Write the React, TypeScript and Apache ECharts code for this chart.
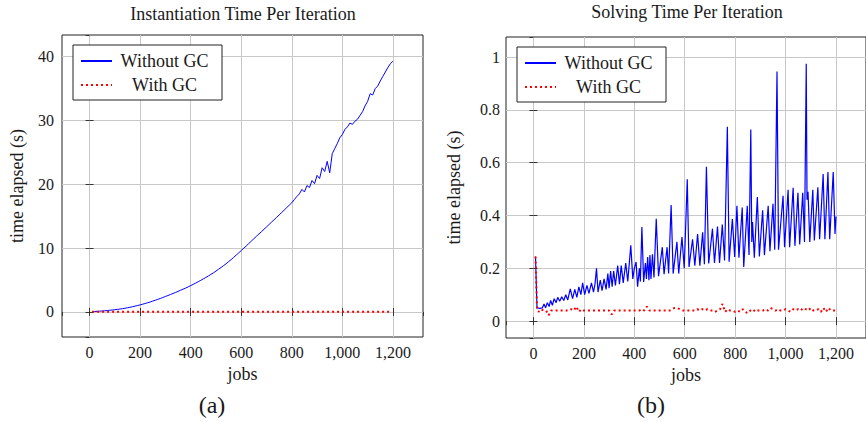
import React, { useEffect, useRef } from "react";
import * as echarts from "echarts";

// ---------- Data: (a) Instantiation time per iteration ----------
const instJobs = [
  10, 20, 30, 40, 50, 60, 70, 80, 90, 100,
  110, 120, 130, 140, 150, 160, 170, 180, 190, 200,
  210, 220, 230, 240, 250, 260, 270, 280, 290, 300,
  310, 320, 330, 340, 350, 360, 370, 380, 390, 400,
  410, 420, 430, 440, 450, 460, 470, 480, 490, 500,
  510, 520, 530, 540, 550, 560, 570, 580, 590, 600,
  610, 620, 630, 640, 650, 660, 670, 680, 690, 700,
  710, 720, 730, 740, 750, 760, 770, 780, 790, 800,
  810, 820, 830, 840, 850, 860, 870, 880, 890, 900,
  910, 920, 930, 940, 950, 960, 970, 980, 990, 1000,
  1010, 1020, 1030, 1040, 1050, 1060, 1070, 1080, 1090, 1100,
  1110, 1120, 1130, 1140, 1150, 1160, 1170, 1180, 1190, 1200,
];
const instWithoutGC = [
  0.05, 0.07, 0.09, 0.12, 0.15, 0.18, 0.22, 0.26, 0.3, 0.35,
  0.4, 0.45, 0.51, 0.58, 0.65, 0.73, 0.82, 0.91, 1.0, 1.1,
  1.21, 1.32, 1.44, 1.56, 1.7, 1.83, 1.97, 2.11, 2.26, 2.42,
  2.57, 2.73, 2.89, 3.05, 3.22, 3.4, 3.57, 3.74, 3.92, 4.12,
  4.32, 4.52, 4.74, 4.95, 5.18, 5.4, 5.63, 5.88, 6.12, 6.4,
  6.68, 6.96, 7.26, 7.55, 7.88, 8.2, 8.55, 8.9, 9.25, 9.62,
  9.98, 10.35, 10.72, 11.1, 11.48, 11.85, 12.22, 12.58, 12.95, 13.32,
  13.7, 14.08, 14.45, 14.82, 15.2, 15.58, 15.96, 16.35, 16.73, 17.12,
  17.6, 18.1, 18.5, 19.2, 18.8, 19.8, 19.5, 20.6, 20.1, 21.4,
  20.9, 22.6, 22.0, 23.6, 21.8, 24.8, 25.6, 26.4, 27.3, 27.8,
  28.6, 29.0, 29.6, 29.4, 29.9, 30.2, 30.8, 31.4, 32.3, 33.0,
  34.2, 34.0, 35.0, 35.4, 36.2, 36.9, 37.6, 38.3, 38.9, 39.3,
];
const instGcJobs = [10, 100, 200, 300, 400, 500, 600, 700, 800, 900, 1000, 1100, 1195];
const instWithGC = [0.03, 0.03, 0.04, 0.04, 0.03, 0.03, 0.03, 0.03, 0.03, 0.03, 0.03, 0.03, 0.03];

// ---------- Data: (b) Solving time per iteration ----------
const solveJobs = [
  8, 14, 25, 35, 42, 48, 55, 62, 68, 75,
  82, 90, 96, 104, 112, 120, 128, 136, 146, 155,
  164, 172, 180, 188, 195, 203, 212, 220, 230, 238,
  244, 250, 256, 265, 272, 280, 288, 295, 300, 306,
  312, 318, 325, 334, 341, 348, 356, 366, 374, 386,
  394, 400, 407, 413, 420, 424, 430, 437, 444, 448,
  453, 458, 462, 466, 472, 478, 487, 496, 511, 518,
  530, 536, 546, 554, 569, 576, 589, 598, 610, 617,
  631, 640, 651, 660, 671, 678, 686, 695, 710, 718,
  730, 738, 749, 758, 769, 776, 789, 798, 807, 815,
  828, 834, 848, 855, 862, 866, 869, 876, 888, 896,
  909, 916, 931, 938, 950, 957, 966, 972, 990, 996,
  1010, 1016, 1030, 1037, 1049, 1056, 1068, 1075, 1082, 1085,
  1089, 1096, 1108, 1114, 1128, 1135, 1149, 1156, 1168, 1175,
  1189, 1196, 1200,
];
const solveWithoutGC = [
  0.245, 0.05, 0.048, 0.05, 0.065, 0.05, 0.07, 0.055, 0.078, 0.06,
  0.085, 0.07, 0.09, 0.075, 0.092, 0.078, 0.1, 0.08, 0.122, 0.085,
  0.12, 0.09, 0.13, 0.1, 0.145, 0.1, 0.135, 0.105, 0.145, 0.11,
  0.14, 0.2, 0.11, 0.155, 0.115, 0.16, 0.12, 0.18, 0.125, 0.19,
  0.13, 0.19, 0.135, 0.21, 0.14, 0.21, 0.145, 0.22, 0.15, 0.287,
  0.16, 0.2, 0.224, 0.13, 0.2, 0.15, 0.356, 0.148, 0.22, 0.16,
  0.243, 0.155, 0.25, 0.16, 0.253, 0.165, 0.388, 0.17, 0.28, 0.178,
  0.28, 0.18, 0.44, 0.18, 0.3, 0.18, 0.318, 0.2, 0.537, 0.205,
  0.31, 0.21, 0.33, 0.21, 0.336, 0.215, 0.585, 0.218, 0.35, 0.22,
  0.358, 0.22, 0.366, 0.23, 0.736, 0.225, 0.387, 0.243, 0.437, 0.24,
  0.43, 0.205, 0.437, 0.25, 0.726, 0.3, 0.375, 0.24, 0.47, 0.245,
  0.42, 0.25, 0.437, 0.265, 0.444, 0.27, 0.945, 0.27, 0.475, 0.28,
  0.497, 0.28, 0.505, 0.285, 0.486, 0.29, 0.486, 0.3, 0.975, 0.46,
  0.49, 0.3, 0.497, 0.305, 0.507, 0.31, 0.557, 0.31, 0.565, 0.31,
  0.565, 0.33, 0.396,
];
const solveGcJobs = [
  8, 14,
  20, 30, 40, 50, 60, 70, 80, 90, 100, 110,
  120, 130, 140, 150, 160, 170, 180, 190, 200, 210,
  220, 230, 240, 250, 260, 270, 280, 290, 300, 310,
  320, 330, 340, 350, 360, 370, 380, 390, 400, 410,
  420, 430, 440, 450, 460, 470, 480, 490, 500, 510,
  520, 530, 540, 550, 560, 570, 580, 590, 600, 610,
  620, 630, 640, 650, 660, 670, 680, 690, 700, 710,
  720, 730, 740, 750, 760, 770, 780, 790, 800, 810,
  820, 830, 840, 850, 860, 870, 880, 890, 900, 910,
  920, 930, 940, 950, 960, 970, 980, 990, 1000, 1010,
  1020, 1030, 1040, 1050, 1060, 1070, 1080, 1090, 1100, 1110,
  1120, 1130, 1140, 1150, 1160, 1170, 1180, 1190, 1200,
];
const solveWithGC = [
  0.245, 0.05,
  0.035, 0.045, 0.04, 0.04, 0.022, 0.04, 0.04, 0.04, 0.04, 0.04,
  0.04, 0.04, 0.04, 0.045, 0.04, 0.055, 0.035, 0.045, 0.04, 0.04,
  0.04, 0.04, 0.04, 0.04, 0.04, 0.04, 0.04, 0.04, 0.04, 0.025,
  0.04, 0.04, 0.04, 0.04, 0.04, 0.04, 0.04, 0.04, 0.04, 0.04,
  0.04, 0.045, 0.04, 0.055, 0.04, 0.04, 0.04, 0.04, 0.04, 0.04,
  0.04, 0.04, 0.04, 0.045, 0.05, 0.05, 0.045, 0.04, 0.04, 0.04,
  0.04, 0.04, 0.04, 0.045, 0.04, 0.045, 0.04, 0.045, 0.04, 0.04,
  0.035, 0.04, 0.045, 0.065, 0.035, 0.045, 0.04, 0.04, 0.035, 0.04,
  0.035, 0.045, 0.035, 0.03, 0.04, 0.045, 0.035, 0.04, 0.04, 0.04,
  0.045, 0.04, 0.05, 0.045, 0.04, 0.045, 0.04, 0.04, 0.045, 0.04,
  0.035, 0.045, 0.04, 0.045, 0.04, 0.05, 0.045, 0.04, 0.05, 0.04,
  0.04, 0.045, 0.035, 0.05, 0.035, 0.05, 0.04, 0.04, 0.04,
];

const seriesNames = ["Without GC", "With GC"];
const titles = ["Instantiation Time Per Iteration", "Solving Time Per Iteration"];
const subLabels = ["(a)", "(b)"];
const xName = "jobs";
const yName = "time elapsed (s)";

const FONT = "Liberation Serif";
const TXT = "#1a1a1a";
const GRIDC = "#c8c8c8";

const zip = (xs: number[], ys: number[]) => {
  const n = Math.min(xs.length, ys.length);
  const out: number[][] = [];
  for (let i = 0; i < n; i++) out.push([xs[i], ys[i]]);
  return out;
};

const fmtThousands = (v: number) => {
  if (Math.abs(v) >= 1000) {
    const k = Math.floor(v / 1000);
    const r = Math.round(v - k * 1000);
    return `${k},${String(r).padStart(3, "0")}`;
  }
  return String(v);
};
const isMult = (v: number, step: number) => {
  const k = v / step;
  return Math.abs(k - Math.round(k)) < 1e-6;
};

const X_MIN = -109;
const X_MAX = 1319;

function xAxes(gridIndex: number) {
  const base = () => ({
    type: "value",
    gridIndex,
    min: X_MIN,
    max: X_MAX,
    minInterval: 200,
    maxInterval: 200,
    axisLine: { show: false },
  });
  return [
    {
      ...base(),
      position: "bottom",
      name: xName,
      nameLocation: "middle",
      nameGap: 28,
      nameTextStyle: { fontFamily: FONT, fontSize: 18, color: TXT },
      axisTick: { show: true, inside: true, length: 4, lineStyle: { color: "#333" } },
      axisLabel: {
        fontFamily: FONT,
        fontSize: 16,
        color: TXT,
        margin: 7,
        showMinLabel: false,
        showMaxLabel: false,
        formatter: (v: number) => (isMult(v, 200) ? fmtThousands(v) : ""),
      },
      splitLine: { show: true, showMinLine: false, showMaxLine: false, lineStyle: { color: GRIDC, width: 1 } },
    },
    {
      ...base(),
      position: "top",
      axisTick: { show: true, inside: true, length: 4, lineStyle: { color: "#333" } },
      axisLabel: { show: false },
      splitLine: { show: false },
    },
  ];
}

function yAxes(gridIndex: number, min: number, max: number, step: number, nameGap: number, margin: number) {
  const base = () => ({
    type: "value",
    gridIndex,
    min,
    max,
    minInterval: step,
    maxInterval: step,
    axisLine: { show: false },
  });
  return [
    {
      ...base(),
      position: "left",
      name: yName,
      nameLocation: "middle",
      nameGap,
      nameTextStyle: { fontFamily: FONT, fontSize: 18, color: TXT },
      axisTick: { show: true, inside: true, length: 4, lineStyle: { color: "#333" } },
      axisLabel: {
        fontFamily: FONT,
        fontSize: 16,
        color: TXT,
        margin,
        showMinLabel: false,
        showMaxLabel: false,
        formatter: (v: number) => (isMult(v, step) ? String(+v.toFixed(2)) : ""),
      },
      splitLine: { show: true, showMinLine: false, showMaxLine: false, lineStyle: { color: GRIDC, width: 1 } },
    },
    {
      ...base(),
      position: "right",
      axisTick: { show: true, inside: true, length: 4, lineStyle: { color: "#333" } },
      axisLabel: { show: false },
      splitLine: { show: false },
    },
  ];
}

function legendAt(left: number, top: number) {
  return {
    left,
    top,
    orient: "vertical",
    data: seriesNames.slice(),
    selectedMode: false,
    backgroundColor: "#fff",
    borderColor: "#222",
    borderWidth: 1,
    borderRadius: 0,
    padding: [7, 10, 6, 7],
    itemWidth: 31,
    itemHeight: 14,
    itemGap: 6,
    itemStyle: { color: "rgba(0,0,0,0)", borderColor: "rgba(0,0,0,0)", borderWidth: 0, opacity: 0 },
    formatter: "{t|{name}}",
    textStyle: {
      fontFamily: FONT,
      fontSize: 18,
      color: TXT,
      rich: { t: { fontFamily: FONT, fontSize: 18, color: TXT, width: 95, align: "center", lineHeight: 16 } },
    },
  };
}

const txt = (x: number, y: number, text: string, size: number) => ({
  type: "text",
  x,
  y,
  style: {
    text,
    font: `${size}px "${FONT}"`,
    fill: TXT,
    align: "center",
    verticalAlign: "middle",
    textAlign: "center",
    textVerticalAlign: "middle",
  },
});

function buildOption() {
  const blueLine = (width: number) => ({ color: "#0000ff", width, type: "solid" });
  const redLine = () => ({ color: "#ff0000", width: 2, type: [2, 3], cap: "butt" });
  return {
    animation: false,
    backgroundColor: "#ffffff",
    textStyle: { fontFamily: FONT },
    grid: [
      { left: 62, top: 35, width: 361, height: 302, show: true, borderColor: "#222", borderWidth: 1, backgroundColor: "transparent" },
      { left: 506, top: 37, width: 362, height: 301, show: true, borderColor: "#222", borderWidth: 1, backgroundColor: "transparent" },
    ],
    xAxis: [...xAxes(0), ...xAxes(1)],
    yAxis: [...yAxes(0, -3.93, 43.4, 10, 36, 8), ...yAxes(1, -0.064, 1.076, 0.2, 43, 6)],
    legend: [legendAt(73, 45), legendAt(517, 47)],
    series: [
      {
        name: seriesNames[0],
        type: "line",
        xAxisIndex: 0,
        yAxisIndex: 0,
        data: zip(instJobs, instWithoutGC),
        symbol: "none",
        lineStyle: blueLine(1),
        itemStyle: { color: "#0000ff" },
        z: 2,
      },
      {
        name: seriesNames[1],
        type: "line",
        xAxisIndex: 0,
        yAxisIndex: 0,
        data: zip(instGcJobs, instWithGC),
        symbol: "none",
        lineStyle: redLine(),
        itemStyle: { color: "#ff0000" },
        z: 3,
      },
      {
        name: seriesNames[0],
        type: "line",
        xAxisIndex: 2,
        yAxisIndex: 2,
        data: zip(solveJobs, solveWithoutGC),
        symbol: "none",
        lineStyle: blueLine(1.2),
        itemStyle: { color: "#0000ff" },
        z: 2,
      },
      {
        name: seriesNames[1],
        type: "line",
        xAxisIndex: 2,
        yAxisIndex: 2,
        data: zip(solveGcJobs, solveWithGC),
        symbol: "none",
        lineStyle: redLine(),
        itemStyle: { color: "#ff0000" },
        z: 3,
      },
    ],
    graphic: [
      txt(243, 14, titles[0], 18),
      txt(687, 12, titles[1], 18),
      txt(212, 405, subLabels[0], 24),
      txt(651, 405, subLabels[1], 24),
    ],
  };
}

const CSS = `.ec-serif-root text, .ec-serif-root tspan { font-family: "Liberation Serif", "Times New Roman", serif !important; }`;

export default function App() {
  const ref = useRef<HTMLDivElement>(null);
  useEffect(() => {
    if (!ref.current) return;
    const chart = echarts.init(ref.current, null, { renderer: "svg" });
    chart.setOption(buildOption() as any);
    return () => chart.dispose();
  }, []);
  return (
    <>
      <style>{CSS}</style>
      <div
        ref={ref}
        className="ec-serif-root"
        style={{ position: "fixed", left: 0, top: 0, width: 866, height: 422, background: "#fff" }}
      />
    </>
  );
}
